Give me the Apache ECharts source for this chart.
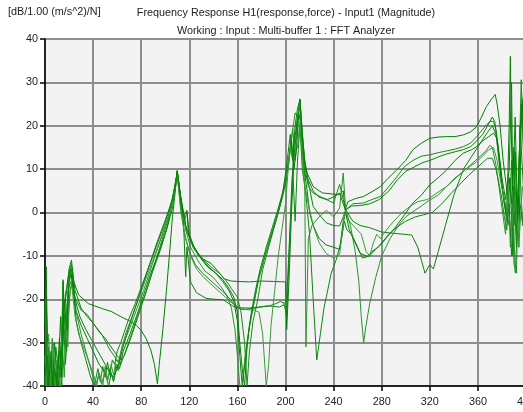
<!DOCTYPE html>
<html>
<head>
<meta charset="utf-8">
<script src="https://cdn.jsdelivr.net/npm/echarts@6/dist/echarts.min.js"></script>
<style>
  html, body { margin: 0; padding: 0; background: #ffffff; }
  #chart { width: 523px; height: 412px; }
</style>
</head>
<body>
<div id="chart"></div>
<script>
// Axis ticks
const freqTicks = [0, 40, 80, 120, 160, 200, 240, 280, 320, 360, 400];
const dbTicks = [-40, -30, -20, -10, 0, 10, 20, 30, 40];

// Measured FRF magnitudes, one [frequency Hz, dB] list per measurement point
const frfPoint1 = [[0,-26],[1,-12.5],[2,-30],[3,-40],[4,-33],[5,-38],[7,-40],[9,-31],[11,-36],[13,-24],[14,-33],[15,-15.5],[16,-22],[18,-18],[20,-13],[22,-11],
  [24,-16],[28,-19],[32,-20],[36,-21],[41,-21.5],[48,-22.2],[55,-22.8],[63,-24],[71,-25.1],[76,-26],[80,-27.2],[84,-29],[88,-31.7],[91,-35],[93.5,-39.5],[95,-35],[98,-27],[101,-18],[104,-8],[106,-1],[108,4],[110,9.7],
  [112,5],[115,0],[118,-4.5],[122,-7],[127,-9.4],[132,-10.8],[138,-11.7],[144,-13.6],[149,-15.3],[155,-15.8],[160,-15.9],[170,-16],[180,-15.8],[190,-15.9],[200,-16],[201,-27],[203,-15],[205,0],[207,12],[210,22],[212,26.2],[214,18],[216,12],[218,9.1],[223,6],[228,5],[231,4.5],[238,4.3],[245,4.1],[248,5],[249.6,0.6],[252,2.5],[258,3.2],[265,3.7],[272,4.8],[279,6],[285,7.8],[292.5,9.8],[300,12],[306,14.5],[313,16],[320,17.1],[327,17.4],[334,17.5],[341,17.5],[348,17.9],[354,18.6],[359,19.8],[363,22],[367,24.4],[371,26],[374.4,27.2],[376,25],[378.5,19.8],[381,12],[384,5.2],[386,8],[388,2],[390,15],[392,-5],[394,10],[396,25],[398,15],[400,20]];

const frfPoint2 = [[0,-35],[1,-18],[2,-38],[4,-40],[6,-34],[8,-40],[10,-37],[12,-40],[14,-27],[15,-16],[16,-28],[17,-19],[20,-14],[22,-12],
  [25,-18],[30,-22],[35,-24],[40,-25.5],[45,-27.5],[50,-29],[55,-31],[60,-33],[63,-34],[66,-33],[70,-30],[75,-26],[82,-20],[89,-14],[96,-8.6],[102,-3],[107,4.5],[110,9.5],
  [112,4],[115,-1],[117,-14.8],[118,-8],[121,-16],[126,-18.5],[134,-19.8],[141,-20],[148,-20.1],[157,-21.7],[165,-22.4],[175,-22],[185,-21.5],[195,-21.8],[199,-21.2],[201,-24],[203,-10],[205,5],[207,15],[209,20],[212,25],[214,15],[216,9],[219,7],[223,1.4],[228,-0.5],[234,-2.4],[240,-3],[245,-3.1],[248,-1],[250,0.6],[256,-2],[262,-3],[270,-3.5],[280,-4.5],[290,-4.8],[298,-5],[305,-5.2],[310,-8],[313,-11],[316,-14],[320,-12],[323,-13],[327,-9],[333,-3],[340,4],[348,10],[355,13],[362,16],[368,18.5],[372,20],[375,18],[378,12],[381,4],[384,-2],[387,8],[389,-10],[391,14],[393,-5],[395,20],[398,5],[400,12]];

const frfPoint3 = [[0,-28],[2,-40],[3,-31],[5,-40],[7,-35],[9,-40],[11,-33],[13,-38],[15,-20],[17,-30],[19,-18],[21,-13],
  [24,-19],[30,-22.5],[35,-23.5],[40,-25.5],[47,-28],[54,-31.7],[60,-34],[63,-35],[67,-32],[72,-28],[78,-23],[84,-18.5],[90,-13],[96,-7.5],[102,-2],[106,2.5],[110,9.2],
  [113,3],[116,-2],[118,0.2],[119,-4],[123,-8],[128,-10],[134,-11.5],[140,-13],[145,-14],[150,-15.5],[155,-17.5],[160,-19.5],[163,-23],[166,-30],[168,-40],[170,-32],[173,-25],[177,-20],[181,-13.2],[186,-8],[190,-4],[194,0],[197,3.7],[200,8],[203,13],[206,19.3],[208,12],[210,20],[212,26],[215,15],[217,9],[219,6],[223,4.5],[230,3.5],[240,2.2],[245,6.5],[248,3],[250,0.6],[256,2],[265,2.2],[272,3],[279,3.7],[286,6],[292,8],[299,10.6],[306,12],[313,13],[320,13.3],[327,13.8],[334,14.2],[341,14.6],[348,15.2],[354,16],[359,17.5],[365,19.5],[370,21],[373,21],[375,19],[377,13],[380,6],[383,1.5],[386,-3],[388,12],[390,-12],[392,-14],[394,8],[396,30.6],[398,12],[400,2]];

const frfPoint4 = [[0,-40],[1,-20],[3,-40],[5,-36],[7,-40],[9,-38],[11,-40],[13,-35],[16,-25],[18,-32],[20,-16],[22,-14],
  [25,-22],[30,-26],[35,-29],[40,-32],[45,-35],[50,-37],[53,-40],[55,-37],[57,-39],[60,-35],[62,-36],[65,-32],[70,-28.5],[76,-24],[82,-19],[88,-14],[95,-9],[101,-4],[106,1],[110,9.5],
  [113,3.5],[117,-3],[122,-7],[128,-10],[135,-12.5],[142,-14],[148,-16],[153,-18],[157,-20.5],[160,-25],[162,-33],[164,-40],[167,-33],[170,-26],[174,-20.5],[178,-15],[183,-10],[188,-5.5],[193,-1],[197,3],[200,6.5],[203,12],[205,17],[207,10],[209,14],[211,23],[213,20],[215,11],[218,5],[220,0],[223,-3],[228,-6],[234,-7.5],[240,-8],[245,-8.5],[248,-2],[250,0],[253,-4],[258,-7],[262,-9.4],[268,-10.1],[272,-9],[278,-7.8],[285,-5.5],[292,-3.2],[299,-0.5],[306,2.2],[313,4],[320,6.4],[327,8],[334,9.8],[341,12],[348,13.7],[355,14.5],[359,15.2],[364,16.5],[369,17.5],[373,18.3],[376,17],[378,12],[380,6],[382,2],[384,-1],[386,20],[387,36],[388,15],[390,-3],[392,5],[394,-8],[396,20],[398,28],[400,15]];

const frfPoint5 = [[0,-20],[1,-40],[2,-30],[4,-40],[6,-29],[8,-40],[10,-34],[12,-40],[14,-28],[16,-38],[18,-22],[20,-17],
  [23,-15],[26,-23],[30,-28],[34,-32],[38,-36],[42,-40],[45,-37],[48,-40],[50,-35.5],[52,-38.5],[54,-36],[57,-39],[59,-35],[61,-36.5],[64,-31],[70,-27],[76,-22.5],[82,-18],[88,-13],[94,-8],[100,-3],[105,1.5],[110,9],
  [113,2],[117,-4],[121,-8],[127,-11],[133,-13.5],[140,-15],[146,-17],[151,-19],[155,-22],[158,-27],[160,-33],[162,-40],[164,-40],[166,-34],[169,-28],[173,-22],[177,-16],[182,-11],[187,-6],[192,-1.5],[196,2.5],[200,7],[203,13],[205,17],[208,23],[210,22],[212,25],[214,16],[216,8],[217,-31],[219,-6],[222,-3],[228,-1],[234,0.5],[240,-1],[245,1],[248,9.1],[250,0.6],[254,-3],[258,-9],[261,-16],[263,-24],[265,-30],[267,-26],[270,-21],[275,-15],[280,-10],[287,-6],[294,-3],[300,-1],[306,0.2],[313,1.5],[320,2.9],[327,4],[334,6],[341,8],[348,9.5],[354,11],[360,12.5],[366,14],[370,15.5],[372,15],[375,11],[378,5],[381,-1],[383,-5],[385,8],[387,-8],[389,5],[391,-13.9],[393,-2],[395,10],[397,-3],[399,8],[400,5]];

const frfPoint6 = [[0,-40],[1,-28],[2,-40],[4,-35],[6,-40],[8,-30],[10,-40],[12,-32],[14,-40],[15,-22],[17,-35],[19,-26],[21,-18],[23,-16],
  [26,-25],[30,-30],[34,-34],[38,-38],[41,-40],[44,-36],[46,-39],[48,-35.5],[50,-38],[52,-34.5],[54,-37.5],[56,-34],[58,-35],[60,-32],[63,-30],[69,-25],[75,-21],[81,-16.5],[87,-12],[93,-7],[99,-2.5],[105,2],[110,8.8],
  [113,1],[116,-5],[120,-9],[125,-12],[131,-14],[137,-15.5],[143,-17],[149,-18.5],[154,-20],[158,-21.5],[163,-22],[170,-22],[178,-21.8],[186,-21.6],[192,-21],[196,-20.5],[199,-21],[201,-20],[203,-8],[205,3],[206,10],[208,-2],[210,12],[212,20],[214,10],[217,4],[220,-5],[223,-20],[226,-34],[229,-28],[232,-22],[234,-19.4],[238,-14],[242,-11],[246,-7],[249,-2],[251,-4],[255,-5],[260,-8],[264,-10.5],[270,-10],[275,-8.5],[280,-7],[286,-5],[292,-3.5],[300,-2],[308,-1],[315,-0.5],[322,0],[330,2],[338,4.5],[345,6.5],[352,8.5],[358,10],[364,11.5],[368,12.5],[372,12.5],[375,10],[378,6],[380,3],[382,-1],[384,-4],[386,2],[388,-10],[390,6],[392,-8],[394,4],[397,-2],[400,3]];

const frfPoint7 = [[0,-33],[1,-40],[3,-28],[5,-40],[7,-30],[9,-40],[11,-38],[13,-40],[15,-30],[17,-24],[19,-31],[20,-20],[22,-16],
  [25,-24],[28,-28],[32,-31],[36,-34],[40,-37],[43,-40],[45,-37],[47,-39.5],[50,-36.5],[52,-39],[55,-35],[57,-37.5],[59,-34],[61,-34.5],[64,-31],[67,-28],[73,-23.5],[79,-19],[85,-14.5],[91,-10],[97,-5.5],[103,-1],[107,3],[110,8.5],
  [113,0],[117,-6],[121,-10],[126,-13],[132,-15],[138,-16.5],[144,-18],[150,-19.5],[156,-21],[162,-22],[168,-22.4],[174,-22.5],[178,-23],[181,-28],[184,-40],[186,-35],[188,-26],[191,-18],[194,-10],[197,-4],[200,2],[202,9],[204,15],[206,12],[208,18],[210,15],[212,21],[214,12],[216,6],[219,2],[223,-3],[228,-7],[234,-9.5],[240,-10.5],[245,-9.6],[248,-3],[250,0.6],[253,-2],[258,-3.5],[263,-5],[267,-9],[270,-10],[273,-7],[276,-5],[279,-6],[284,-4],[290,-2],[297,0],[304,1.5],[310,2.5],[318,3],[326,4.5],[334,6],[342,8],[350,10],[358,11.5],[364,13],[369,14.5],[373,15],[376,12],[379,7],[382,3],[385,0],[388,-4],[391,4],[394,-8],[397,6],[400,0]];

const frfPoint8 = [[0,-38],[2,-33],[3,-40],[5,-32],[6,-40],[8,-36],[10,-40],[12,-29],[14,-38],[16,-20],[18,-27],[20,-15],[22,-13],
  [25,-20],[29,-24],[34,-27],[39,-29.5],[44,-32],[49,-34.5],[54,-37],[57,-38],[60,-36],[64,-32],[69,-27],[75,-22],[81,-17],[87,-12],[93,-7.5],[99,-3],[104,1.5],[108,5],[110,9.6],
  [112,5],[115,-1],[118,0.5],[120,-5],[124,-8],[130,-10.5],[136,-12.5],[142,-14],[148,-15.5],[153,-17.5],[157,-19.5],[160,-23],[162,-30],[164,-36],[166,-40],[168,-31],[171,-24],[175,-18],[179,-13],[184,-8],[189,-3.5],[194,1],[198,5],[201,11],[204,18],[206,12],[208,20],[210,24],[212,26],[214,17],[216,11],[219,7.5],[223,5],[228,3.5],[235,3],[240,3.6],[245,4.5],[248,2],[250,0.6],[255,1.5],[262,1.6],[270,2],[278,3],[286,5],[293,7.5],[300,9.5],[307,10.5],[314,11.5],[320,12],[327,12.8],[334,13.5],[341,14],[348,14.5],[354,15.2],[359,16.5],[364,18],[368,20],[372,22],[374,21],[377,15],[380,8],[383,3],[386,10],[388,30],[389,5],[391,22],[393,-2],[395,18],[397,26],[399,8],[400,14]];

const frfSeries = [frfPoint1, frfPoint2, frfPoint3, frfPoint4, frfPoint5, frfPoint6, frfPoint7, frfPoint8];
const lineColors = ['#008000', '#0a840a', '#1a8a1a', '#008000', '#2a922a', '#108510', '#3a9a3a', '#048204'];

const chart = echarts.init(document.getElementById('chart'), null, { renderer: 'canvas' });

const fontFamily = '"Liberation Sans", Arial, sans-serif';
const textSize = 10.8;

chart.setOption({
  animation: false,
  backgroundColor: '#ffffff',
  grid: {
    left: 45, right: -3, top: 39, bottom: 26,
    outerBoundsMode: 'none', containLabel: false,
    show: true, backgroundColor: '#f3f3f3', borderWidth: 0
  },
  graphic: [
    { type: 'text', left: 8, top: 7, style: { text: '[dB/1.00 (m/s^2)/N]', font: textSize + 'px ' + fontFamily, fill: '#222' } },
    { type: 'text', x: 286, y: 13, style: { text: 'Frequency Response H1(response,force) - Input1 (Magnitude)', font: textSize + 'px ' + fontFamily, fill: '#222', textAlign: 'center', textVerticalAlign: 'middle' } },
    { type: 'text', x: 286, y: 31, style: { text: 'Working : Input : Multi-buffer 1 : FFT Analyzer', font: textSize + 'px ' + fontFamily, fill: '#222', textAlign: 'center', textVerticalAlign: 'middle' } }
  ],
  xAxis: {
    type: 'value',
    min: freqTicks[0],
    max: freqTicks[freqTicks.length - 1],
    interval: freqTicks[1] - freqTicks[0],
    name: '[Hz]',
    nameLocation: 'middle',
    nameGap: 28,
    nameTextStyle: { color: '#222', fontSize: textSize, fontFamily: fontFamily },
    axisLine: { show: true, onZero: false, lineStyle: { color: '#000', width: 1.5 } },
    axisTick: { show: true, length: 5, lineStyle: { color: '#000', width: 1.5 } },
    axisLabel: { color: '#222', fontSize: textSize, fontFamily: fontFamily, margin: 11 },
    splitLine: { show: true, lineStyle: { color: '#8e8e8e', width: 2 } }
  },
  yAxis: {
    type: 'value',
    min: dbTicks[0],
    max: dbTicks[dbTicks.length - 1],
    interval: dbTicks[1] - dbTicks[0],
    axisLine: { show: true, onZero: false, lineStyle: { color: '#000', width: 1.5 } },
    axisTick: { show: true, length: 5, lineStyle: { color: '#000', width: 1.5 } },
    axisLabel: { color: '#222', fontSize: textSize, fontFamily: fontFamily, margin: 7 },
    splitLine: { show: true, lineStyle: { color: '#8e8e8e', width: 2 } }
  },
  series: frfSeries.map((pts, i) => ({
    type: 'line',
    data: pts,
    showSymbol: false,
    clip: true,
    silent: true,
    lineStyle: { color: lineColors[i], width: 1 },
    z: 3
  }))
});
</script>
</body>
</html>
